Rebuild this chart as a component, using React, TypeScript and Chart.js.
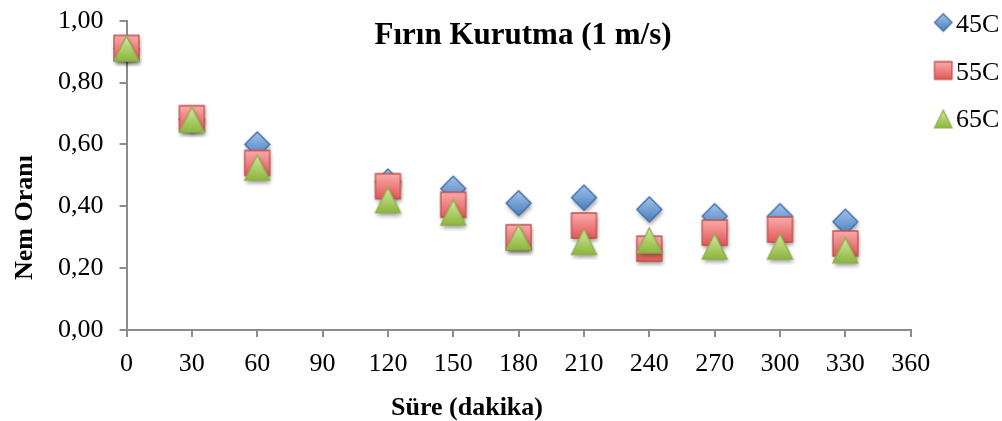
import { useEffect, useRef } from 'react';
import { Chart, registerables } from 'chart.js';

Chart.register(...registerables);

// ---- data ----
const minutes = [0, 30, 60, 120, 150, 180, 210, 240, 270, 300, 330];
const series45C = [0.91, 0.68, 0.6, 0.48, 0.457, 0.41, 0.428, 0.39, 0.368, 0.368, 0.35];
const series55C = [0.912, 0.685, 0.54, 0.465, 0.405, 0.3, 0.338, 0.263, 0.315, 0.325, 0.28];
const series65C = [0.91, 0.68, 0.525, 0.42, 0.38, 0.3, 0.285, 0.29, 0.27, 0.27, 0.258];
const seriesLabels = ['45C', '55C', '65C'];
const chartTitle = 'Fırın Kurutma (1 m/s)';
const xAxisTitle = 'Süre (dakika)';
const yAxisTitle = 'Nem Oranı';
const xRange = [0, 360];
const yRange = [0, 1];

const FONT = "'Liberation Serif', 'Times New Roman', serif";

type Shape = 'diamond' | 'square' | 'triangle';
interface Palette { top: string; bottom: string; border: string }

const palettes: Palette[] = [
  { top: '#a3c4ec', bottom: '#4a7ebb', border: '#3d6db0' },
  { top: '#fbaaaa', bottom: '#e05a57', border: '#c0504d' },
  { top: '#d3e8a0', bottom: '#8cb63c', border: '#8fb04a' },
];
const shapes: Shape[] = ['diamond', 'square', 'triangle'];

function makeMarker(shape: Shape, size: number, pal: Palette, shadow: boolean): HTMLCanvasElement {
  const pad = 6;
  const dim = Math.ceil(size + pad * 2);
  const c = document.createElement('canvas');
  c.width = dim;
  c.height = dim;
  const ctx = c.getContext('2d')!;
  const cx = dim / 2;
  const cy = dim / 2;
  const h = size / 2;
  const path = () => {
    ctx.beginPath();
    if (shape === 'diamond') {
      ctx.moveTo(cx, cy - h);
      ctx.lineTo(cx + h, cy);
      ctx.lineTo(cx, cy + h);
      ctx.lineTo(cx - h, cy);
      ctx.closePath();
    } else if (shape === 'square') {
      ctx.rect(cx - h, cy - h, size, size);
    } else {
      ctx.moveTo(cx, cy - h);
      ctx.lineTo(cx + h, cy + h);
      ctx.lineTo(cx - h, cy + h);
      ctx.closePath();
    }
  };
  if (shadow) {
    ctx.save();
    ctx.shadowColor = 'rgba(0,0,0,0.4)';
    ctx.shadowBlur = 4;
    ctx.shadowOffsetX = 1;
    ctx.shadowOffsetY = 3;
    path();
    ctx.fillStyle = pal.bottom;
    ctx.fill();
    ctx.restore();
  }
  const g = ctx.createLinearGradient(0, cy - h, 0, cy + h);
  g.addColorStop(0, pal.top);
  g.addColorStop(1, pal.bottom);
  path();
  ctx.fillStyle = g;
  ctx.fill();
  ctx.lineWidth = 1.3;
  ctx.strokeStyle = pal.border;
  ctx.lineJoin = 'miter';
  ctx.stroke();
  return c;
}

export default function App() {
  const ref = useRef<HTMLCanvasElement | null>(null);

  useEffect(() => {
    document.body.style.margin = '0';
    const canvas = ref.current;
    if (!canvas) return;

    const chartMarkers = shapes.map((s, i) => makeMarker(s, 25, palettes[i], true));
    const legendMarkers = shapes.map((s, i) => makeMarker(s, 17.5, palettes[i], false));
    const allSeries = [series45C, series55C, series65C];

    const textPlugin = {
      id: 'excelTexts',
      afterDraw(chart: Chart) {
        const ctx = chart.ctx;
        ctx.save();
        ctx.fillStyle = '#000';
        ctx.textBaseline = 'alphabetic';
        // title
        ctx.font = `bold 31px ${FONT}`;
        ctx.textAlign = 'center';
        ctx.fillText(chartTitle, 523, 43.5);
        // x axis title
        ctx.font = `bold 26px ${FONT}`;
        ctx.fillText(xAxisTitle, 467, 415);
        // y axis title
        ctx.save();
        ctx.translate(32, 217.5);
        ctx.rotate(-Math.PI / 2);
        ctx.fillText(yAxisTitle, 0, 0);
        ctx.restore();
        // legend
        const legendY = [22.5, 70.5, 119];
        const textY = [32.3, 80, 126.7];
        ctx.font = `26px ${FONT}`;
        ctx.textAlign = 'left';
        seriesLabels.forEach((lab, i) => {
          const m = legendMarkers[i];
          ctx.drawImage(m, 943.3 - m.width / 2, legendY[i] - m.height / 2);
          ctx.fillText(lab, 956, textY[i]);
        });
        ctx.restore();
      },
    };

    const chart = new Chart(canvas, {
      type: 'scatter',
      data: {
        datasets: seriesLabels.map((label, i) => ({
          label,
          data: minutes.map((m, j) => ({ x: m, y: allSeries[i][j] })),
          pointStyle: chartMarkers[i],
          pointRadius: 12,
          pointHoverRadius: 12,
          showLine: false,
          clip: false,
          order: 3 - i,
        })),
      },
      options: {
        responsive: false,
        animation: false,
        devicePixelRatio: 1,
        layout: { autoPadding: false, padding: { left: 0, top: 20.7, right: 91.3, bottom: 0 } },
        plugins: {
          legend: { display: false },
          title: { display: false },
          tooltip: { enabled: false },
        },
        scales: {
          x: {
            type: 'linear',
            min: xRange[0],
            max: xRange[1],
            ticks: {
              stepSize: 30,
              font: { family: FONT, size: 26 },
              color: '#000',
              padding: 12,
              maxRotation: 0,
            },
            grid: {
              drawOnChartArea: false,
              drawTicks: true,
              tickLength: 7,
              color: '#8c8c8c',
              lineWidth: 2,
            },
            border: { display: true, color: '#8c8c8c', width: 2 },
            afterFit: (scale: any) => {
              scale.height = 91;
              scale.paddingLeft = 0;
              scale.paddingRight = 0;
            },
          },
          y: {
            type: 'linear',
            min: yRange[0],
            max: yRange[1],
            ticks: {
              stepSize: 0.2,
              font: { family: FONT, size: 26 },
              color: '#000',
              padding: 16,
              callback: (v: any) => Number(v).toFixed(2).replace('.', ','),
            },
            grid: {
              drawOnChartArea: false,
              drawTicks: true,
              tickLength: 7,
              color: '#8c8c8c',
              lineWidth: 2,
            },
            border: { display: true, color: '#8c8c8c', width: 2 },
            afterFit: (scale: any) => {
              scale.width = 126.5;
              scale.paddingTop = 0;
              scale.paddingBottom = 0;
            },
          },
        },
      },
      plugins: [textPlugin],
    });

    return () => chart.destroy();
  }, []);

  return (
    <div style={{ width: 1002, height: 421, background: '#fff' }}>
      <canvas ref={ref} width={1002} height={421} style={{ display: 'block' }} />
    </div>
  );
}
